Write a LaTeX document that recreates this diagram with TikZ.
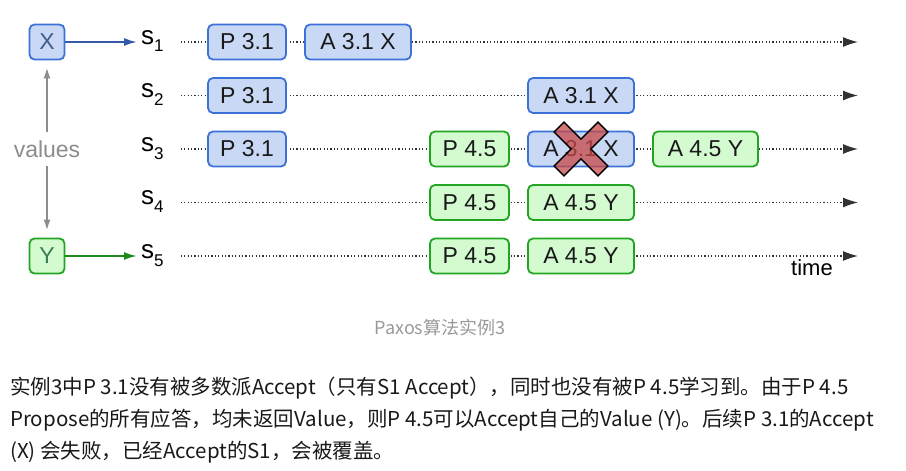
\documentclass[tikz,border=0pt]{standalone}
\usepackage{fontspec}
\setmainfont{Liberation Sans}
\newfontfamily\cjk{Noto Sans CJK SC}
\usepackage{xcolor}
\usetikzlibrary{arrows.meta}
\definecolor{boxblue}{HTML}{C9D8F5}
\definecolor{lineblue}{HTML}{3C72D8}
\definecolor{arrowblue}{HTML}{3558A8}
\definecolor{textblue}{HTML}{3E5F8E}
\definecolor{boxgreen}{HTML}{D4FAD0}
\definecolor{linegreen}{HTML}{22A522}
\definecolor{arrowgreen}{HTML}{1E8A1E}
\definecolor{textgreen}{HTML}{3A7D55}
\definecolor{crossred}{HTML}{C84848}
\definecolor{capgray}{HTML}{999999}
\newcommand{\lanesub}[1]{\raisebox{-8pt}{\fontsize{17}{17}\selectfont #1}}

\begin{document}
\begin{tikzpicture}[x=1pt,y=-1pt,>=Latex,
  msgbox/.style={rounded corners=5pt,line width=1.8pt,minimum height=35pt,
    inner sep=0pt,font=\fontsize{23}{26}\selectfont,text=black!90},
  bluemsg/.style={msgbox,fill=boxblue,draw=lineblue},
  greenmsg/.style={msgbox,fill=boxgreen,draw=linegreen},
  lanename/.style={font=\fontsize{26}{28}\selectfont,inner sep=1pt,anchor=base west},
  lane/.style={draw=black!80,line width=1.2pt,dash pattern=on 1.2pt off 2.2pt,
    shorten <=16pt,-{Latex[length=15pt,width=10pt]}},
  feed/.style={line width=2pt,shorten >=3pt,-{Latex[length=13pt,width=8pt]}},
  grayarrow/.style={draw=black!45,line width=2pt,shorten >=7pt,
    -{Latex[length=11pt,width=7pt]}},
  notes/.style={font=\cjk\fontsize{20.5}{24}\selectfont,text=black!90,anchor=base west,inner sep=0pt}]
  \useasboundingbox (0,0) rectangle (906,471);

  % values
  \node[msgbox,minimum width=35pt,fill=boxblue,draw=lineblue,text=textblue] (xv) at (47,42) {X};
  \node[msgbox,minimum width=35pt,fill=boxgreen,draw=linegreen,text=textgreen] (yv) at (47,256) {Y};
  \node[text=black!45,font=\fontsize{23}{26}\selectfont,inner xsep=2pt,inner ysep=8pt] (vals) at (47,149) {values};
  \draw[grayarrow] (vals) -- (xv);
  \draw[grayarrow] (vals) -- (yv);

  % servers
  \node[lanename] (s1) at (140,44) {s\lanesub{1}};
  \node[lanename] (s2) at (140,97.5) {s\lanesub{2}};
  \node[lanename] (s3) at (140,151) {s\lanesub{3}};
  \node[lanename] (s4) at (140,204.5) {s\lanesub{4}};
  \node[lanename] (s5) at (140,258) {s\lanesub{5}};
  \coordinate (e1) at (858,42);
  \coordinate (e2) at (858,95.5);
  \coordinate (e3) at (858,149);
  \coordinate (e4) at (858,202.5);
  \coordinate (e5) at (858,256);
  \draw[lane] (s1.east |- e1) -- (e1);
  \draw[lane] (s2.east |- e2) -- (e2);
  \draw[lane] (s3.east |- e3) -- (e3);
  \draw[lane] (s4.east |- e4) -- (e4);
  \draw[lane] (s5.east |- e5) -- (e5);
  \draw[feed,draw=arrowblue] (xv.east) -- (s1.west |- xv.east);
  \draw[feed,draw=arrowgreen] (yv.east) -- (s5.west |- yv.east);

  % proposal 3.1
  \node[bluemsg,minimum width=78pt] (p31a) at (247,42) {P 3.1};
  \node[bluemsg,minimum width=78pt] (p31b) at (247,95.5) {P 3.1};
  \node[bluemsg,minimum width=78pt] (p31c) at (247,149) {P 3.1};
  \node[bluemsg,minimum width=106pt] (a31a) at (358,42) {A 3.1 X};
  \node[bluemsg,minimum width=106pt] (a31b) at (581,95.5) {A 3.1 X};
  \node[bluemsg,minimum width=106pt] (a31c) at (581,149) {A 3.1 X};

  % proposal 4.5
  \node[greenmsg,minimum width=79pt] (p45c) at (469.5,149) {P 4.5};
  \node[greenmsg,minimum width=79pt] (p45d) at (469.5,202.5) {P 4.5};
  \node[greenmsg,minimum width=79pt] (p45e) at (469.5,256) {P 4.5};
  \node[greenmsg,minimum width=105pt] (a45c) at (705.5,149) {A 4.5 Y};
  \node[greenmsg,minimum width=106pt] (a45d) at (581,202.5) {A 4.5 Y};
  \node[greenmsg,minimum width=106pt] (a45e) at (581,256) {A 4.5 Y};

  % rejected accept
  \begin{scope}[shift={(a31c.center)},rotate=45]
    \filldraw[fill=crossred,fill opacity=0.75,draw=black,line width=1.5pt]
      (-7,-31) -- (7,-31) -- (7,-7) -- (31,-7) -- (31,7) -- (7,7) -- (7,31)
      -- (-7,31) -- (-7,7) -- (-31,7) -- (-31,-7) -- (-7,-7) -- cycle;
  \end{scope}

  \node[font=\fontsize{22}{24}\selectfont] (time) at (812,268) {time};

  % caption and notes
  \node[font=\cjk\fontsize{18}{20}\selectfont,text=capgray] (cap) at (440,328) {Paxos算法实例3};
  \node[notes] (l1) at (10,394)
    {实例3中P 3.1没有被多数派Accept（只有S1 Accept），同时也没有被P 4.5学习到。由于P 4.5};
  \node[notes] (l2) at (10,426)
    {Propose的所有应答，均未返回Value，则P 4.5可以Accept自己的Value (Y)。后续P 3.1的Accept};
  \node[notes] (l3) at (10,458)
    {(X) 会失败，已经Accept的S1，会被覆盖。};
\end{tikzpicture}
\end{document}
